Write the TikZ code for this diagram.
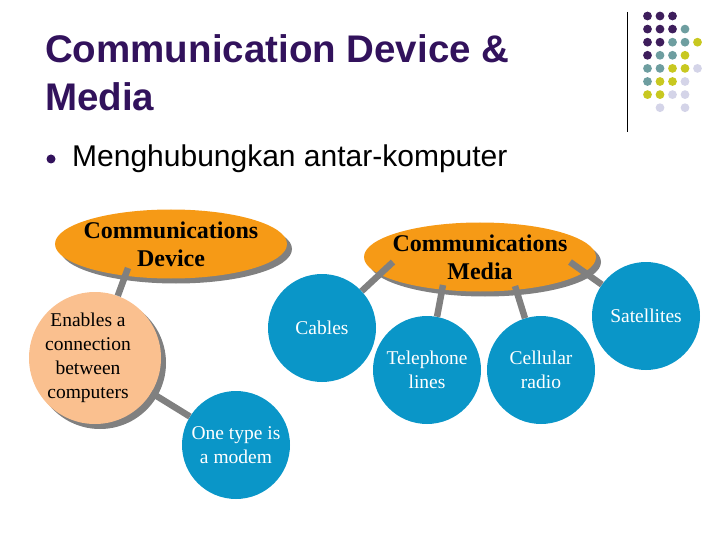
\documentclass[tikz,border=0pt]{standalone}
\usepackage{fontspec}
\setmainfont{Liberation Serif}
\newfontfamily\arialfont{Liberation Sans}
\usetikzlibrary{shapes.geometric,shadows}

\definecolor{titlepurple}{RGB}{50,18,92}
\definecolor{topicorange}{RGB}{246,154,22}
\definecolor{notepeach}{RGB}{250,192,143}
\definecolor{itemblue}{RGB}{10,150,200}
\definecolor{shadowgray}{RGB}{128,128,128}
\definecolor{linkgray}{RGB}{128,128,128}
\definecolor{dotpurple}{RGB}{62,30,92}
\definecolor{dotteal}{RGB}{110,158,160}
\definecolor{dotyellow}{RGB}{200,200,32}
\definecolor{dotlavender}{RGB}{212,212,232}

\begin{document}
\begin{tikzpicture}[x=1pt,y=-1pt,
    topic/.style={shape=ellipse,fill=topicorange,minimum width=232pt,minimum height=69pt,inner sep=0pt,
        drop shadow={shadow xshift=5pt,shadow yshift=-5pt,fill=shadowgray,opacity=1}},
    topictext/.style={align=center,inner sep=0pt,font=\fontsize{24}{28}\selectfont\bfseries},
    note/.style={shape=circle,fill=notepeach,minimum size=132pt,inner sep=0pt,
        drop shadow={shadow xshift=5pt,shadow yshift=-5pt,fill=shadowgray,opacity=1}},
    notetext/.style={align=center,inner sep=0pt,font=\fontsize{19.5}{24}\selectfont},
    item/.style={shape=circle,fill=itemblue,text=white,minimum size=108pt,inner sep=0pt,
        align=center,font=\fontsize{19.5}{24}\selectfont},
    link/.style={draw=linkgray,line width=6.5pt}]

    \useasboundingbox (0,0) rectangle (720,540);

    % corner decoration
    \draw[black,line width=0.8pt] (627,12) -- (627,132);
    \foreach \c/\r/\col in {1/1/dotpurple,2/1/dotpurple,3/1/dotpurple,
        1/2/dotpurple,2/2/dotpurple,3/2/dotpurple,4/2/dotteal,
        1/3/dotpurple,2/3/dotpurple,3/3/dotteal,4/3/dotteal,5/3/dotyellow,
        1/4/dotpurple,2/4/dotteal,3/4/dotteal,4/4/dotyellow,
        1/5/dotteal,2/5/dotteal,3/5/dotyellow,4/5/dotyellow,5/5/dotlavender,
        1/6/dotteal,2/6/dotyellow,3/6/dotyellow,4/6/dotlavender,
        1/7/dotyellow,2/7/dotyellow,3/7/dotlavender,4/7/dotlavender,
        2/8/dotlavender,4/8/dotlavender}
        \fill[\col] ({635+12.5*\c},{2.9+13.1*\r}) circle (4.4);

    % title and bullet
    \node[anchor=north west,inner sep=0pt,align=left,text=titlepurple,
        font=\arialfont\fontsize{38.5}{48}\selectfont\bfseries] (title) at (45,34)
        {Communication Device \&\\Media};
    \node[shape=circle,fill=titlepurple,minimum size=9pt,inner sep=0pt] (bullet) at (51,159) {};
    \node[anchor=base west,inner sep=0pt,font=\arialfont\fontsize{30}{36}\selectfont] (point) at (72,167)
        {Menghubungkan antar-komputer};

    % topics
    \node[topic,label={[topictext]center:Communications\\Device}] (device) at (171,244) {};
    \node[topic,label={[topictext]center:Communications\\Media}] (media) at (480,257) {};

    % circles
    \node[note,label={[notetext,xshift=-7pt]center:Enables a\\connection\\between\\computers}] (enables) at (95,358) {};
    \node[item] (modem) at (236,445) {One type is\\a modem};
    \node[item] (cables) at (322,328) {Cables};
    \node[item] (phone) at (427,370) {Telephone\\lines};
    \node[item] (cellular) at (541,370) {Cellular\\radio};
    \node[item] (satellites) at (646,316) {Satellites};

    % links
    \path[link] ([shift={(-43,24)}]device.center) edge (enables);
    \path[link] (enables) edge (modem);
    \path[link] ([shift={(-87,5)}]media.center) edge (cables);
    \path[link] ([shift={(-37,28)}]media.center) edge (phone);
    \path[link] ([shift={(35,29)}]media.center) edge (cellular);
    \path[link] ([shift={(90,5)}]media.center) edge (satellites);
\end{tikzpicture}
\end{document}
